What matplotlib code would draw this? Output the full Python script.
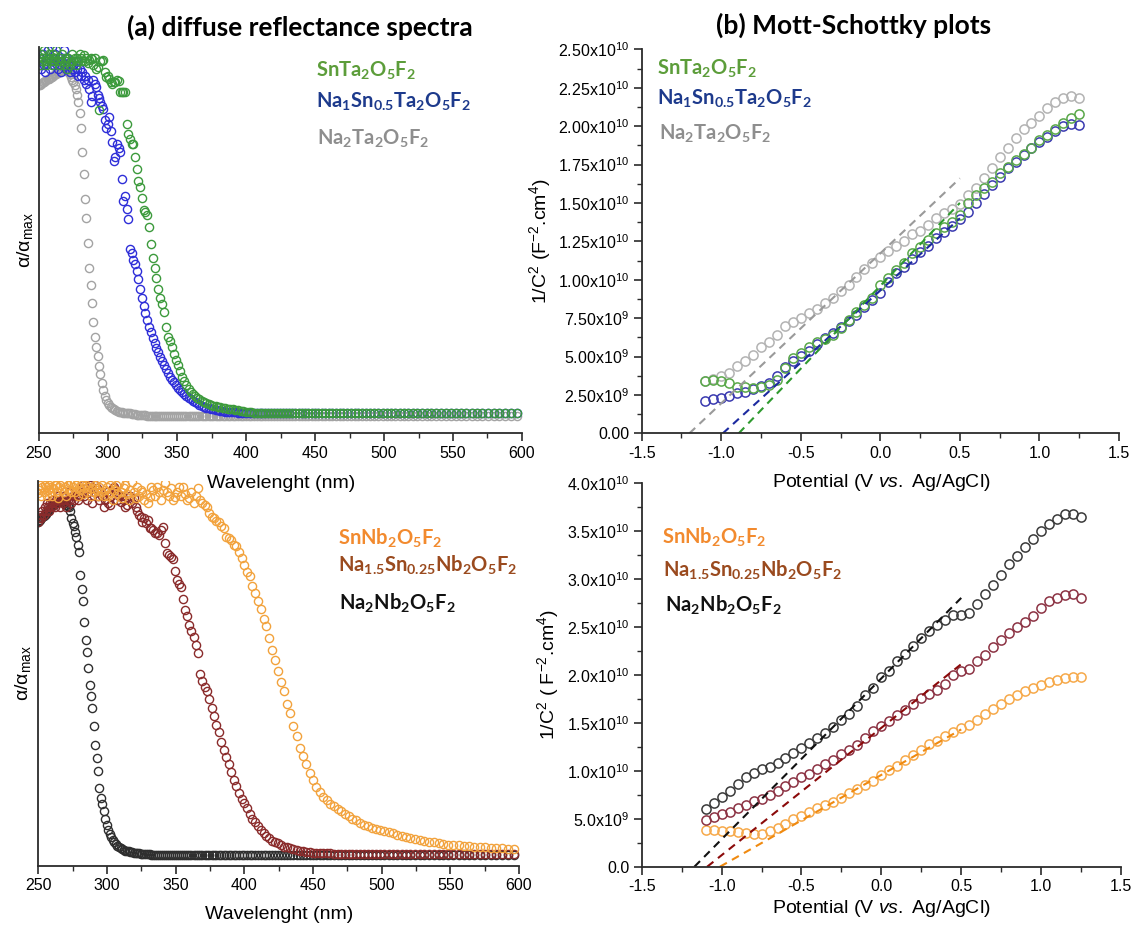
import numpy as np
import matplotlib
matplotlib.use('Agg')
import matplotlib.pyplot as plt
from matplotlib.ticker import MultipleLocator, FuncFormatter

plt.rcParams['font.family'] = ['Liberation Sans', 'DejaVu Sans']
plt.rcParams['mathtext.fontset'] = 'custom'
plt.rcParams['mathtext.rm'] = 'Liberation Sans'
plt.rcParams['mathtext.it'] = 'Liberation Sans:italic'
plt.rcParams['mathtext.bf'] = 'Lato:bold'
plt.rcParams['axes.unicode_minus'] = False

# spectra are sampled on an even photon-energy grid (eV), shown vs wavelength
energy_ev = np.linspace(4.96, 2.08, 193)
wavelength = 1239.84 / energy_ev

# (a) diffuse reflectance, alpha/alpha_max
drs_sn_ta = [
    0.97, 0.95, 0.98, 0.96, 0.97, 0.99, 0.96, 0.95, 0.97, 0.98,
    0.96, 0.97, 0.95, 0.98, 0.96, 0.97, 0.99, 0.96, 0.95, 0.97,
    0.96, 0.98, 0.95, 0.97, 0.96, 0.94, 0.97, 0.95, 0.96, 0.98,
    0.96, 0.97, 0.95, 0.97, 0.96, 0.98, 0.97, 0.96, 0.977, 0.96,
    0.97, 0.955, 0.965, 0.97, 0.967, 0.95, 0.968, 0.94, 0.945, 0.827,
    0.96, 0.962, 0.963, 0.93, 0.918, 0.921, 0.913, 0.903, 0.90, 0.904,
    0.905, 0.909, 0.908, 0.876, 0.877, 0.876, 0.877, 0.79, 0.764, 0.75,
    0.737, 0.737, 0.70, 0.669, 0.635, 0.62, 0.59, 0.556, 0.55, 0.542,
    0.51, 0.465, 0.425, 0.40, 0.372, 0.343, 0.318, 0.30, 0.28, 0.24,
    0.212, 0.20, 0.184, 0.166, 0.15, 0.136, 0.118, 0.103, 0.092, 0.081,
    0.069, 0.062, 0.056, 0.051, 0.047, 0.043, 0.039, 0.035, 0.032, 0.029,
    0.027, 0.025, 0.023, 0.022, 0.021, 0.019, 0.018, 0.017, 0.016, 0.015,
    0.013, 0.012, 0.011, 0.010, 0.009, 0.008, 0.007, 0.006, 0.006, 0.005,
    0.004, 0.004, 0.004, 0.004, 0.004, 0.004, 0.004, 0.004, 0.004, 0.004,
    0.004, 0.004, 0.004, 0.004, 0.004, 0.004, 0.004, 0.004, 0.004, 0.004,
    0.004, 0.004, 0.004, 0.004, 0.004, 0.004, 0.004, 0.004, 0.004, 0.004,
    0.004, 0.004, 0.004, 0.004, 0.004, 0.004, 0.004, 0.004, 0.004, 0.004,
    0.004, 0.004, 0.004, 0.004, 0.004, 0.004, 0.004, 0.004, 0.004, 0.004,
    0.004, 0.004, 0.004, 0.004, 0.004, 0.004, 0.004, 0.004, 0.004, 0.004,
    0.004, 0.004, 0.004,
]
drs_na1sn_ta = [
    0.95, 0.97, 0.94, 0.96, 0.98, 0.95, 0.93, 0.96, 0.99, 0.97,
    0.94, 0.96, 1.00, 0.97, 0.95, 0.98, 0.96, 0.94, 0.97, 0.95,
    0.93, 0.96, 0.99, 0.95, 0.94, 0.97, 0.95, 0.93, 0.96, 0.94,
    0.95, 0.93, 0.96, 0.94, 0.92, 0.94, 0.92, 0.93, 0.91, 0.92,
    0.90, 0.91, 0.885, 0.85, 0.865, 0.91, 0.90, 0.89, 0.87, 0.86,
    0.85, 0.84, 0.83, 0.80, 0.78, 0.79, 0.81, 0.77, 0.74, 0.69,
    0.70, 0.735, 0.725, 0.715, 0.64, 0.58, 0.595, 0.56, 0.533, 0.45,
    0.44, 0.42, 0.41, 0.39, 0.368, 0.342, 0.318, 0.296, 0.276, 0.258,
    0.240, 0.224, 0.208, 0.194, 0.182, 0.170, 0.157, 0.146, 0.135, 0.125,
    0.114, 0.104, 0.096, 0.088, 0.080, 0.074, 0.068, 0.062, 0.057, 0.052,
    0.047, 0.043, 0.038, 0.034, 0.031, 0.028, 0.025, 0.022, 0.020, 0.018,
    0.016, 0.015, 0.013, 0.012, 0.011, 0.010, 0.009, 0.008, 0.008, 0.007,
    0.007, 0.006, 0.006, 0.006, 0.005, 0.005, 0.005, 0.005, 0.004, 0.004,
    0.004, 0.004, 0.004, 0.004, 0.004, 0.004, 0.004, 0.004, 0.004, 0.004,
    0.004, 0.004, 0.004, 0.004, 0.004, 0.004, 0.004, 0.004, 0.004, 0.004,
    0.004, 0.004, 0.004, 0.004, 0.004, 0.004, 0.004, 0.004, 0.004, 0.004,
    0.004, 0.004, 0.004, 0.004, 0.004, 0.004, 0.004, 0.004, 0.004, 0.004,
    0.004, 0.004, 0.004, 0.004, 0.004, 0.004, 0.004, 0.004, 0.004, 0.004,
    0.004, 0.004, 0.004, 0.004, 0.004, 0.004, 0.004, 0.004, 0.004, 0.004,
    0.004, 0.004, 0.004,
]
drs_na2_ta = [
    0.895, 0.897, 0.899, 0.901, 0.903, 0.905, 0.907, 0.909, 0.911, 0.913,
    0.915, 0.917, 0.919, 0.921, 0.923, 0.925, 0.927, 0.929, 0.931, 0.933,
    0.936, 0.938, 0.940, 0.940, 0.938, 0.935, 0.930, 0.925, 0.918, 0.910,
    0.903, 0.897, 0.885, 0.870, 0.850, 0.820, 0.778, 0.715, 0.655, 0.585,
    0.535, 0.466, 0.400, 0.353, 0.303, 0.252, 0.212, 0.185, 0.160, 0.133,
    0.110, 0.087, 0.067, 0.052, 0.040, 0.033, 0.027, 0.022, 0.018, 0.015,
    0.013, 0.011, 0.009, 0.008, 0.007, 0.006, 0.005, 0.005, 0.004, 0.004,
    0.003, 0.002, 0.002, 0.001, 0.001, 0.000, 0.000, -0.001, -0.001, -0.002,
    -0.003, -0.003, -0.003, -0.003, -0.003, -0.003, -0.003, -0.003, -0.003, -0.003,
    -0.003, -0.003, -0.003, -0.003, -0.003, -0.003, -0.003, -0.003, -0.003, -0.003,
    -0.003, -0.003, -0.003, -0.003, -0.003, -0.003, -0.003, -0.003, -0.003, -0.003,
    -0.003, -0.003, -0.003, -0.003, -0.003, -0.003, -0.003, -0.003, -0.003, -0.003,
    -0.003, -0.003, -0.003, -0.003, -0.003, -0.003, -0.003, -0.003, -0.003, -0.003,
    -0.003, -0.003, -0.003, -0.003, -0.003, -0.003, -0.003, -0.003, -0.003, -0.003,
    -0.003, -0.003, -0.003, -0.003, -0.003, -0.003, -0.003, -0.003, -0.003, -0.003,
    -0.003, -0.003, -0.003, -0.003, -0.003, -0.003, -0.003, -0.003, -0.003, -0.003,
    -0.003, -0.003, -0.003, -0.003, -0.003, -0.003, -0.003, -0.003, -0.003, -0.003,
    -0.003, -0.003, -0.003, -0.003, -0.003, -0.003, -0.003, -0.003, -0.003, -0.003,
    -0.003, -0.003, -0.003, -0.003, -0.003, -0.003, -0.003, -0.003, -0.003, -0.003,
    -0.003, -0.003, -0.003,
]
drs_sn_nb = [
    0.967, 0.975, 0.99, 0.96, 0.985, 0.97, 0.99, 0.983, 0.96, 0.975,
    0.99, 0.97, 0.985, 0.96, 0.98, 0.99, 0.989, 0.97, 0.955, 0.985,
    0.99, 0.975, 0.997, 0.97, 0.985, 0.96, 0.99, 0.975, 0.995, 0.97,
    0.985, 0.995, 0.97, 0.99, 0.96, 0.985, 0.975, 0.99, 0.965, 0.98,
    0.99, 0.97, 0.985, 0.995, 0.96, 0.98, 0.97, 0.99, 0.975, 0.96,
    0.985, 0.97, 0.99, 0.96, 0.975, 0.983, 0.96, 0.99, 0.97, 0.95,
    0.975, 0.99, 0.965, 0.995, 0.97, 0.955, 0.98, 0.99, 0.965, 0.95,
    0.975, 0.997, 0.97, 0.955, 0.985, 0.96, 0.975, 0.97, 0.95, 0.965,
    0.94, 0.957, 0.985, 0.976, 0.96, 0.983, 0.97, 0.95, 0.975, 0.995,
    0.97, 0.96, 0.98, 0.95, 0.957, 0.97, 0.983, 0.96, 0.983, 0.965,
    0.95, 0.954, 0.97, 0.941, 0.96, 0.98, 0.95, 0.94, 0.935, 0.93,
    0.915, 0.905, 0.90, 0.893, 0.89, 0.88, 0.873, 0.85, 0.848, 0.842,
    0.83, 0.825, 0.81, 0.795, 0.775, 0.757, 0.745, 0.72, 0.70, 0.68,
    0.658, 0.63, 0.612, 0.58, 0.548, 0.52, 0.492, 0.463, 0.438, 0.403,
    0.38, 0.345, 0.317, 0.287, 0.265, 0.242, 0.218, 0.200, 0.182, 0.168,
    0.155, 0.146, 0.137, 0.13, 0.122, 0.116, 0.109, 0.103, 0.097, 0.092,
    0.086, 0.081, 0.077, 0.073, 0.070, 0.066, 0.063, 0.060, 0.057, 0.053,
    0.050, 0.047, 0.045, 0.042, 0.039, 0.037, 0.035, 0.033, 0.031, 0.029,
    0.027, 0.026, 0.025, 0.024, 0.023, 0.022, 0.021, 0.020, 0.019, 0.018,
    0.017, 0.016, 0.015,
]
drs_na15sn_nb = [
    0.89, 0.90, 0.91, 0.90, 0.92, 0.91, 0.93, 0.92, 0.94, 0.93,
    0.92, 0.94, 0.93, 0.95, 0.94, 0.93, 0.95, 0.94, 0.96, 0.95,
    0.93, 0.95, 0.94, 0.96, 0.95, 0.93, 0.95, 0.97, 0.95, 0.94,
    0.96, 0.95, 0.97, 0.96, 0.95, 0.96, 0.963, 0.97, 0.99, 0.96,
    0.98, 0.95, 0.97, 0.99, 0.96, 0.94, 0.97, 0.99, 0.98, 0.96,
    0.95, 0.97, 0.96, 0.93, 0.95, 0.97, 0.94, 0.936, 0.96, 0.98,
    0.985, 0.97, 0.95, 0.96, 0.945, 0.96, 0.95, 0.93, 0.936, 0.95,
    0.96, 0.94, 0.954, 0.93, 0.92, 0.91, 0.905, 0.89, 0.90, 0.887,
    0.896, 0.873, 0.875, 0.869, 0.860, 0.862, 0.856, 0.87, 0.878, 0.835,
    0.807, 0.802, 0.797, 0.79, 0.76, 0.735, 0.725, 0.717, 0.685, 0.655,
    0.638, 0.615, 0.598, 0.582, 0.561, 0.54, 0.485, 0.465, 0.45, 0.437,
    0.418, 0.392, 0.37, 0.348, 0.328, 0.302, 0.281, 0.262, 0.243, 0.222,
    0.201, 0.183, 0.166, 0.15, 0.138, 0.124, 0.109, 0.096, 0.087, 0.077,
    0.067, 0.059, 0.051, 0.044, 0.038, 0.035, 0.031, 0.027, 0.022, 0.020,
    0.018, 0.015, 0.013, 0.011, 0.009, 0.008, 0.007, 0.006, 0.005, 0.005,
    0.004, 0.004, 0.004, 0.003, 0.003, 0.003, 0.003, 0.002, 0.002, 0.002,
    0.002, 0.002, 0.002, 0.002, 0.002, 0.002, 0.002, 0.002, 0.002, 0.002,
    0.002, 0.002, 0.002, 0.002, 0.002, 0.002, 0.002, 0.002, 0.002, 0.002,
    0.002, 0.002, 0.002, 0.002, 0.002, 0.002, 0.002, 0.002, 0.002, 0.002,
    0.002, 0.002, 0.002,
]
drs_na2_nb = [
    0.890, 0.893, 0.897, 0.900, 0.903, 0.906, 0.909, 0.912, 0.916, 0.920,
    0.923, 0.927, 0.930, 0.933, 0.936, 0.939, 0.941, 0.943, 0.944, 0.945,
    0.945, 0.945, 0.944, 0.942, 0.940, 0.937, 0.934, 0.930, 0.920, 0.900,
    0.888, 0.880, 0.864, 0.849, 0.830, 0.810, 0.749, 0.710, 0.680, 0.624,
    0.575, 0.543, 0.500, 0.455, 0.425, 0.392, 0.345, 0.295, 0.260, 0.225,
    0.180, 0.151, 0.136, 0.116, 0.095, 0.080, 0.066, 0.055, 0.047, 0.040,
    0.034, 0.028, 0.024, 0.021, 0.018, 0.015, 0.013, 0.011, 0.010, 0.009,
    0.008, 0.007, 0.006, 0.005, 0.004, 0.004, 0.003, 0.003, 0.002, 0.002,
    0.001, 0.001, 0.000, 0.000, 0.000, 0.000, 0.000, 0.000, 0.000, 0.000,
    0.000, 0.000, 0.000, 0.000, 0.000, 0.000, 0.000, 0.000, 0.000, 0.000,
    0.000, 0.000, 0.000, 0.000, 0.000, 0.000, 0.000, 0.000, 0.000, 0.000,
    0.000, 0.000, 0.000, 0.000, 0.000, 0.000, 0.000, 0.000, 0.000, 0.000,
    0.000, 0.000, 0.000, 0.000, 0.000, 0.000, 0.000, 0.000, 0.000, 0.000,
    0.000, 0.000, 0.000, 0.000, 0.000, 0.000, 0.000, 0.000, 0.000, 0.000,
    0.000, 0.000, 0.000, 0.000, 0.000, 0.000, 0.000, 0.000, 0.000, 0.000,
    0.000, 0.000, 0.000, 0.000, 0.000, 0.000, 0.000, 0.000, 0.000, 0.000,
    0.000, 0.000, 0.000, 0.000, 0.000, 0.000, 0.000, 0.000, 0.000, 0.000,
    0.000, 0.000, 0.000, 0.000, 0.000, 0.000, 0.000, 0.000, 0.000, 0.000,
    0.000, 0.000, 0.000, 0.000, 0.000, 0.000, 0.000, 0.000, 0.000, 0.000,
    0.000, 0.000, 0.000,
]

# (b) Mott-Schottky, 1/C^2 in units of 1e9 F^-2 cm^4
potential = np.round(np.arange(-1.10, 1.26, 0.05), 2)
ms_sn_ta = [3.43, 3.47, 3.43, 3.30, 3.04, 2.99, 2.93, 2.99, 3.15, 3.47,
            4.23, 4.88, 5.21, 5.64, 5.97, 6.12, 6.40, 6.84, 7.38, 7.92,
            8.35, 8.83, 9.66, 10.09, 10.63, 11.07, 11.72, 12.15, 12.59, 13.02,
            13.41, 13.78, 14.21, 14.97, 15.52, 15.95, 16.38, 16.93, 17.36, 17.80,
            18.19, 18.55, 19.10, 19.42, 19.79, 20.18, 20.51, 20.79]
ms_na1sn_ta = [2.11, 2.23, 2.33, 2.44, 2.60, 2.71, 2.86, 3.09, 3.28, 3.72,
               4.32, 4.69, 5.02, 5.38, 5.83, 6.22, 6.53, 6.92, 7.29, 7.70,
               8.25, 8.70, 9.15, 9.87, 10.42, 10.85, 11.33, 11.83, 12.20, 12.70,
               13.09, 13.50, 13.93, 14.43, 15.02, 15.58, 16.17, 16.71, 17.25, 17.69,
               18.12, 18.55, 18.99, 19.31, 19.70, 20.01, 20.14, 20.07]
ms_na2_ta = [3.40, 3.55, 3.75, 3.95, 4.38, 4.71, 5.08, 5.62, 5.97, 6.40,
             6.99, 7.25, 7.48, 7.81, 8.07, 8.46, 8.79, 9.29, 9.66, 10.2,
             10.7, 11.1, 11.5, 11.9, 12.2, 12.55, 12.95, 13.2, 13.55, 14.0,
             14.35, 14.6, 14.9, 15.5, 16.0, 16.6, 17.3, 18.0, 18.6, 19.2,
             19.8, 20.2, 20.65, 21.2, 21.6, 21.85, 21.95, 21.8]
ms_sn_nb = [3.82, 3.82, 3.75, 3.75, 3.65, 3.48, 3.45, 3.45, 3.70, 4.00,
            4.45, 4.94, 5.30, 5.73, 6.08, 6.42, 6.77, 7.20, 7.65, 8.05,
            8.52, 8.94, 9.57, 10.09, 10.54, 11.13, 11.65, 12.17, 12.77, 13.11,
            13.57, 14.02, 14.43, 14.78, 15.30, 15.90, 16.45, 16.97, 17.46, 17.91,
            18.26, 18.61, 18.96, 19.23, 19.48, 19.65, 19.72, 19.72]
ms_na15sn_nb = [4.90, 5.15, 5.45, 5.75, 6.15, 6.40, 6.80, 7.10, 7.45, 7.90,
                8.40, 8.85, 9.30, 9.70, 10.15, 10.65, 11.15, 11.70, 12.15, 12.70,
                13.45, 14.10, 14.65, 15.13, 15.76, 16.35, 16.94, 17.57, 17.98, 18.43,
                19.03, 20.00, 20.35, 20.63, 21.39, 22.09, 22.85, 23.65, 24.35, 24.94,
                25.50, 26.09, 26.96, 27.65, 28.00, 28.35, 28.42, 28.00]
ms_na2_nb = [5.98, 6.60, 7.30, 7.92, 8.61, 9.31, 9.72, 10.14, 10.42, 10.84,
             11.29, 11.81, 12.33, 12.85, 13.37, 13.96, 14.59, 15.28, 15.87, 16.74,
             17.89, 18.58, 19.75, 20.42, 21.39, 22.16, 23.03, 23.83, 24.59, 25.15,
             25.74, 26.26, 26.19, 26.43, 27.37, 28.42, 29.39, 30.43, 31.48, 32.35,
             33.29, 34.09, 34.96, 35.65, 36.17, 36.70, 36.77, 36.42]

# linear fits (end points: potential, 1/C^2 in 1e9)
fit_sn_ta = ([-0.89, 0.50], [0.0, 15.0])
fit_na1sn_ta = ([-0.99, 0.50], [0.0, 14.0])
fit_na2_ta = ([-1.20, 0.50], [0.0, 16.6])
fit_sn_nb = ([-1.01, 0.50], [0.0, 14.3])
fit_na15sn_nb = ([-1.09, 0.50], [0.0, 21.1])
fit_na2_nb = ([-1.17, 0.50], [0.0, 28.0])

lbl_sn_ta = r'$\mathbf{SnTa_2O_5F_2}$'
lbl_na1sn_ta = r'$\mathbf{Na_1Sn_{0.5}Ta_2O_5F_2}$'
lbl_na2_ta = r'$\mathbf{Na_2Ta_2O_5F_2}$'
lbl_sn_nb = r'$\mathbf{SnNb_2O_5F_2}$'
lbl_na15sn_nb = r'$\mathbf{Na_{1.5}Sn_{0.25}Nb_2O_5F_2}$'
lbl_na2_nb = r'$\mathbf{Na_2Nb_2O_5F_2}$'

W, H = 1131.0, 927.0
fig = plt.figure(figsize=(W / 100, H / 100), dpi=100)


def px_box(left, top, right, bottom):
    return [left / W, 1 - bottom / H, (right - left) / W, (bottom - top) / H]


def style_axes(ax):
    ax.patch.set_visible(False)  # labels of the upper panels run into the lower ones
    for side in ['top', 'right']:
        ax.spines[side].set_visible(False)
    for side in ['left', 'bottom']:
        ax.spines[side].set_linewidth(1.3)
        ax.spines[side].set_color('#2b2b2b')
    ax.tick_params(which='major', direction='out', length=6, width=1.2,
                   color='#2b2b2b', labelsize=11.5, pad=3)
    ax.tick_params(which='minor', direction='out', length=3.5, width=1.0,
                   color='#2b2b2b')


def sci_fmt(nd):
    def f(v, pos):
        if v < 0:
            return ''
        if v < 1:
            return f'{0:.{nd}f}'
        e = int(np.floor(np.log10(v) + 1e-9))
        return f'{v / 10 ** e:.{nd}f}x10$^{{{e}}}$'
    return FuncFormatter(f)


def put_label(ax, axis, text, x, y):
    if axis == 'x':
        ax.set_xlabel(text, fontsize=14)
        ax.xaxis.set_label_coords(x, y)
        ax.xaxis.label.set_va('center')
    else:
        ax.set_ylabel(text, fontsize=14)
        ax.yaxis.set_label_coords(x, y)
        ax.yaxis.label.set_va('center')


def legend_text(x, y, text, color):
    fig.text(x / W, 1 - y / H, text, color=color, fontsize=14.5,
             ha='left', va='baseline')


mk = dict(ls='none', marker='o', mfc='none')
dash = (0, (3.8, 2.8))

# ---- (a) top: Ta compounds
ax1 = fig.add_axes(px_box(39, 46.7, 522, 433.3))
style_axes(ax1)
ax1.plot(wavelength, drs_na2_ta, color='#a3a3a3', ms=5.9, mew=1.0, **mk)
ax1.plot(wavelength, drs_na1sn_ta, color='#2e2ed8', ms=5.9, mew=1.0, **mk)
ax1.plot(wavelength, drs_sn_ta, color='#3c9a3c', ms=5.9, mew=1.0, **mk)
ax1.set_xlim(250, 600)
ax1.set_ylim(-0.05, 1.0)
ax1.set_yticks([])
ax1.xaxis.set_major_locator(MultipleLocator(50))
ax1.xaxis.set_minor_locator(MultipleLocator(25))
put_label(ax1, 'x', 'Wavelenght (nm)', 0.501, -0.129)
put_label(ax1, 'y', r'α/α$_{\mathrm{max}}$', -0.029, 0.5)

# ---- (a) bottom: Nb compounds
ax3 = fig.add_axes(px_box(38.3, 481, 519, 866))
style_axes(ax3)
ax3.plot(wavelength, drs_na2_nb, color='#2e2e2e', ms=5.9, mew=1.0, **mk)
ax3.plot(wavelength, drs_na15sn_nb, color='#8a2b2b', ms=5.9, mew=1.0, **mk)
ax3.plot(wavelength, drs_sn_nb, color='#f2a23c', ms=5.9, mew=1.0, **mk)
ax3.set_xlim(250, 600)
ax3.set_ylim(-0.03, 1.0)
ax3.set_yticks([])
ax3.xaxis.set_major_locator(MultipleLocator(50))
ax3.xaxis.set_minor_locator(MultipleLocator(25))
put_label(ax3, 'x', 'Wavelenght (nm)', 0.5, -0.127)
put_label(ax3, 'y', r'α/α$_{\mathrm{max}}$', -0.032, 0.5)

# ---- (b) top: Mott-Schottky Ta
ax2 = fig.add_axes(px_box(641.7, 49.3, 1119, 433.3))
style_axes(ax2)
ax2.plot(potential, np.array(ms_na2_ta) * 1e9, color='#b3b3b3', ms=6.6, mew=1.1, **mk)
ax2.plot(potential, np.array(ms_na1sn_ta) * 1e9, color='#3a3ab0', ms=6.6, mew=1.1, **mk)
ax2.plot(potential, np.array(ms_sn_ta) * 1e9, color='#5aa84a', ms=6.6, mew=1.1, **mk)
for fit, c in [(fit_na2_ta, '#9a9a9a'), (fit_na1sn_ta, '#1c2aa0'), (fit_sn_ta, '#2f9a2f')]:
    ax2.plot(fit[0], np.array(fit[1]) * 1e9, color=c, lw=1.5, ls=dash)
ax2.set_xlim(-1.5, 1.5)
ax2.set_ylim(0, 2.5e10)
ax2.xaxis.set_major_locator(MultipleLocator(0.5))
ax2.xaxis.set_minor_locator(MultipleLocator(0.25))
ax2.yaxis.set_major_locator(MultipleLocator(2.5e9))
ax2.yaxis.set_minor_locator(MultipleLocator(1.25e9))
ax2.yaxis.set_major_formatter(sci_fmt(2))
put_label(ax2, 'x', r'Potential (V $\mathit{vs.}$ Ag/AgCl)', 0.503, -0.127)
put_label(ax2, 'y', r'1/C$^2$ (F$^{-2}$.cm$^4$)', -0.212, 0.5)

# ---- (b) bottom: Mott-Schottky Nb
ax4 = fig.add_axes(px_box(641.7, 482.7, 1121, 866.7))
style_axes(ax4)
ax4.plot(potential, np.array(ms_sn_nb) * 1e9, color='#f6a94a', ms=6.6, mew=1.1, **mk)
ax4.plot(potential, np.array(ms_na15sn_nb) * 1e9, color='#8c3344', ms=6.6, mew=1.1, **mk)
ax4.plot(potential, np.array(ms_na2_nb) * 1e9, color='#3a3a3a', ms=6.6, mew=1.1, **mk)
for fit, c in [(fit_sn_nb, '#f08a10'), (fit_na15sn_nb, '#8b0a0a'), (fit_na2_nb, '#111111')]:
    ax4.plot(fit[0], np.array(fit[1]) * 1e9, color=c, lw=1.5, ls=dash)
ax4.set_xlim(-1.5, 1.5)
ax4.set_ylim(0, 4.0e10)
ax4.xaxis.set_major_locator(MultipleLocator(0.5))
ax4.xaxis.set_minor_locator(MultipleLocator(0.25))
ax4.yaxis.set_major_locator(MultipleLocator(5e9))
ax4.yaxis.set_minor_locator(MultipleLocator(2.5e9))
ax4.yaxis.set_major_formatter(sci_fmt(1))
put_label(ax4, 'x', r'Potential (V $\mathit{vs.}$ Ag/AgCl)', 0.5, -0.108)
put_label(ax4, 'y', r'1/C$^2$ ( F$^{-2}$.cm$^4$)', -0.195, 0.5)

# panel titles
fig.text(300 / W, 1 - 27 / H, '(a) diffuse reflectance spectra', family='Lato',
         fontweight='bold', fontsize=19, ha='center', va='center')
fig.text(854 / W, 1 - 25 / H, '(b) Mott-Schottky plots', family='Lato',
         fontweight='bold', fontsize=19, ha='center', va='center')

# coloured sample names
legend_text(316, 77, lbl_sn_ta, '#5c9d3a')
legend_text(316, 108, lbl_na1sn_ta, '#1d3a8c')
legend_text(317, 145, lbl_na2_ta, '#8e8e8e')
legend_text(657, 75, lbl_sn_ta, '#5c9d3a')
legend_text(657, 105, lbl_na1sn_ta, '#1d3a8c')
legend_text(659, 140, lbl_na2_ta, '#8e8e8e')
legend_text(338, 545, lbl_sn_nb, '#f28a2e')
legend_text(338, 572, lbl_na15sn_nb, '#9a4a1e')
legend_text(339, 610, lbl_na2_nb, '#111111')
legend_text(662, 544, lbl_sn_nb, '#f28a2e')
legend_text(663, 577, lbl_na15sn_nb, '#9a4a1e')
legend_text(665, 612, lbl_na2_nb, '#111111')

fig.savefig('out.png', dpi=100)
